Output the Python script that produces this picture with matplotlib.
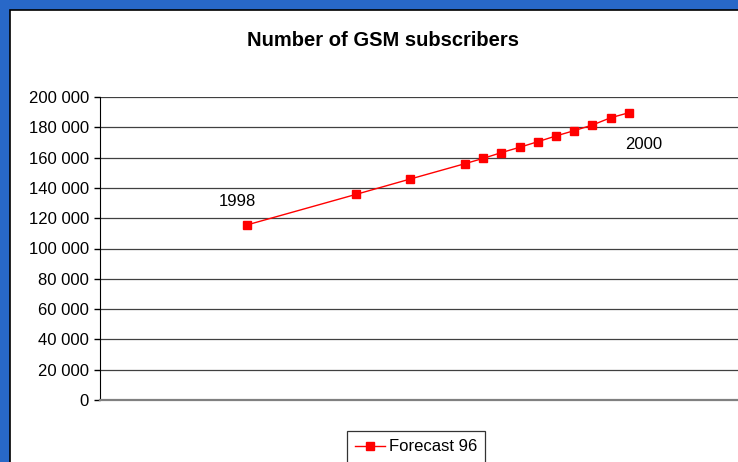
import matplotlib.pyplot as plt
from matplotlib.patches import Rectangle
from matplotlib.ticker import FuncFormatter, MultipleLocator

plt.rcParams['font.family'] = ['Liberation Sans', 'DejaVu Sans']

# months counted from the first point (1998)
months = [0, 6, 9, 12, 13, 14, 15, 16, 17, 18, 19, 20, 21]
subscribers = [115500, 135700, 145900, 156000, 159500, 163300, 166800,
               170500, 174300, 177800, 181500, 186300, 189600]
series_name = "Forecast 96"
title = "Number of GSM subscribers"

W, H = 738, 462
fig = plt.figure(figsize=(W / 100, H / 100), dpi=100)
fig.patch.set_facecolor('#2868c8')

# white chart panel with thin black edge
fig.add_artist(Rectangle((9.5 / W, -0.01), 1.0, (H - 9.5) / H + 0.01,
                         transform=fig.transFigure, facecolor='white',
                         edgecolor='black', linewidth=1.2, zorder=0))

ax = fig.add_axes([100 / W, 62 / H, (W - 100) / W, 303 / H])
ax.set_facecolor('none')

ax.plot(months, subscribers, color='#ff0000', linewidth=1.0,
        marker='s', markersize=6, label=series_name, zorder=3)

ax.set_xlim(-8.06, 27.0)
ax.set_ylim(0, 200000)
ax.yaxis.set_major_locator(MultipleLocator(20000))
ax.yaxis.set_major_formatter(FuncFormatter(lambda v, p: f"{int(v):,}".replace(",", " ")))
ax.set_xticks([])
ax.tick_params(axis='y', labelsize=12, length=4, width=1, color='black', pad=4)
ax.grid(axis='y', color='#404040', linewidth=0.9)
ax.set_axisbelow(True)

for s in ['top', 'right']:
    ax.spines[s].set_visible(False)
ax.spines['left'].set_color('black')
ax.spines['bottom'].set_color('#808080')
ax.spines['bottom'].set_linewidth(1.6)

ax.text(months[0] - 0.5, 131000, "1998", fontsize=12, ha='center', va='center')
ax.text(months[-1] + 0.8, 168500, "2000", fontsize=12, ha='center', va='center')

fig.text(383 / W, 1 - 40 / H, title, fontsize=14.5, fontweight='bold',
         ha='center', va='center')

leg = fig.legend(loc='upper left', bbox_to_anchor=(347 / W, 1 - 431 / H),
                 fontsize=12, frameon=True, fancybox=False, borderpad=0.5,
                 handlelength=1.75, handletextpad=0.25, borderaxespad=0)
leg.get_frame().set_edgecolor('black')
leg.get_frame().set_linewidth(0.9)

fig.savefig('out.png', dpi=100, facecolor=fig.get_facecolor())
